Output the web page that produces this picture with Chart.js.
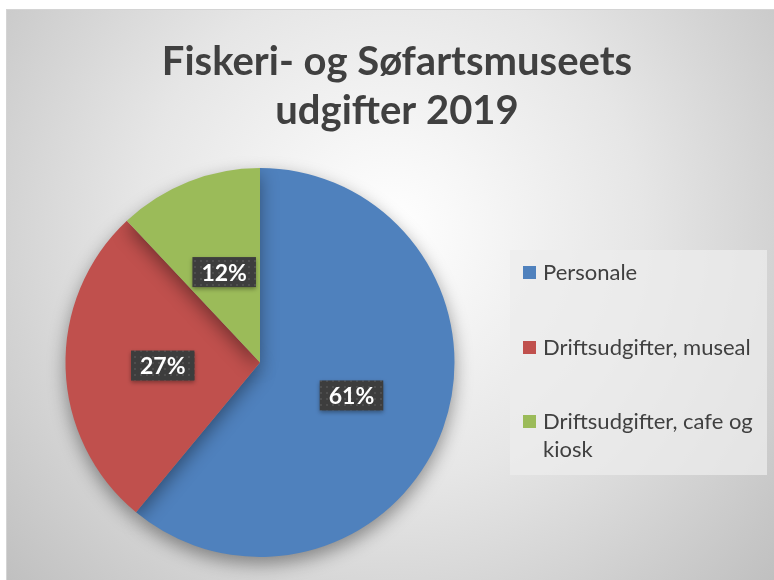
<!DOCTYPE html>
<html>
<head>
<meta charset="utf-8">
<script src="https://cdn.jsdelivr.net/npm/chart.js@4"></script>
<style>
  html, body { margin: 0; padding: 0; background: #fff; }
  #wrap { width: 774px; height: 580px; }
</style>
</head>
<body>
<div id="wrap"><canvas id="myPie" width="774" height="580"></canvas></div>
<script>
const titleLines = ["Fiskeri- og Søfartsmuseets", "udgifter 2019"];
const categories = ["Personale", "Driftsudgifter, museal", "Driftsudgifter, cafe og kiosk"];
const shares = [61, 27, 12];
const colors = ["#4f81bd", "#c0504d", "#9bbb59"];

const textColor = "#404040";

// small dotted pattern for the label boxes
function makePattern(ctx) {
  const p = document.createElement('canvas');
  p.width = 6; p.height = 6;
  const pc = p.getContext('2d');
  pc.fillStyle = "#3d3d3d";
  pc.fillRect(0, 0, 6, 6);
  pc.fillStyle = "#4e4e4e";
  pc.fillRect(2, 2, 2, 2);
  return ctx.createPattern(p, 'repeat');
}

function wrapText(ctx, text, maxW) {
  const words = text.split(' ');
  const lines = [];
  let line = '';
  words.forEach(w => {
    const test = line ? line + ' ' + w : w;
    if (ctx.measureText(test).width > maxW && line) {
      lines.push(line);
      line = w;
    } else {
      line = test;
    }
  });
  lines.push(line);
  return lines;
}

const decor = {
  id: 'decor',
  beforeDraw(chart) {
    const ctx = chart.ctx;
    ctx.save();
    const g = ctx.createRadialGradient(390, 230, 0, 390, 230, 560);
    g.addColorStop(0, "#ffffff");
    g.addColorStop(0.45, "#e6e6e6");
    g.addColorStop(1, "#bababa");
    ctx.fillStyle = g;
    ctx.fillRect(6, 9, 768, 571);
    ctx.strokeStyle = "#d4d4d4";
    ctx.lineWidth = 1;
    ctx.strokeRect(6.5, 9.5, 770, 575);

    // title
    ctx.fillStyle = textColor;
    ctx.font = "bold 40px Lato";
    ctx.textAlign = "center";
    ctx.textBaseline = "middle";
    ctx.fillText(titleLines[0], 397, 62);
    ctx.fillText(titleLines[1], 397, 111);

    // legend box
    ctx.fillStyle = "rgba(236,236,236,0.75)";
    ctx.fillRect(510, 250, 257, 225);
    ctx.font = "22px Lato";
    ctx.textAlign = "left";
    const rows = [273, 348, 422];
    chart.data.labels.forEach((lab, i) => {
      ctx.fillStyle = chart.data.datasets[0].backgroundColor[i];
      ctx.fillRect(523, rows[i] - 7, 13, 13);
      ctx.fillStyle = textColor;
      wrapText(ctx, lab, 222).forEach((ln, j) => {
        ctx.fillText(ln, 543, rows[i] + j * 28);
      });
    });
    ctx.restore();
  },
  beforeDatasetsDraw(chart) {
    const ctx = chart.ctx;
    ctx.save();
    ctx.shadowColor = "rgba(0,0,0,0.4)";
    ctx.shadowBlur = 18;
    ctx.shadowOffsetY = 7;
  },
  afterDatasetsDraw(chart) {
    const ctx = chart.ctx;
    ctx.restore();
    ctx.save();
    const pat = makePattern(ctx);
    ctx.font = "bold 23px Lato";
    ctx.textAlign = "center";
    ctx.textBaseline = "middle";
    chart.getDatasetMeta(0).data.forEach((arc, i) => {
      const pos = arc.tooltipPosition();
      const txt = shares[i] + "%";
      const w = ctx.measureText(txt).width + 18;
      const h = 30;
      ctx.shadowColor = "rgba(0,0,0,0.35)";
      ctx.shadowBlur = 4;
      ctx.shadowOffsetY = 2;
      ctx.fillStyle = pat;
      ctx.fillRect(pos.x - w / 2, pos.y - h / 2, w, h);
      ctx.shadowColor = "transparent";
      ctx.fillStyle = "#ffffff";
      ctx.fillText(txt, pos.x, pos.y + 1);
    });
    ctx.restore();
  }
};

new Chart(document.getElementById('myPie'), {
  type: 'pie',
  data: {
    labels: categories,
    datasets: [{
      data: shares,
      backgroundColor: colors,
      borderWidth: 0
    }]
  },
  options: {
    responsive: false,
    animation: false,
    layout: {
      padding: { left: 65, right: 319, top: 168, bottom: 23 }
    },
    plugins: {
      legend: { display: false },
      title: { display: false },
      tooltip: { enabled: false }
    }
  },
  plugins: [decor]
});
</script>
</body>
</html>
